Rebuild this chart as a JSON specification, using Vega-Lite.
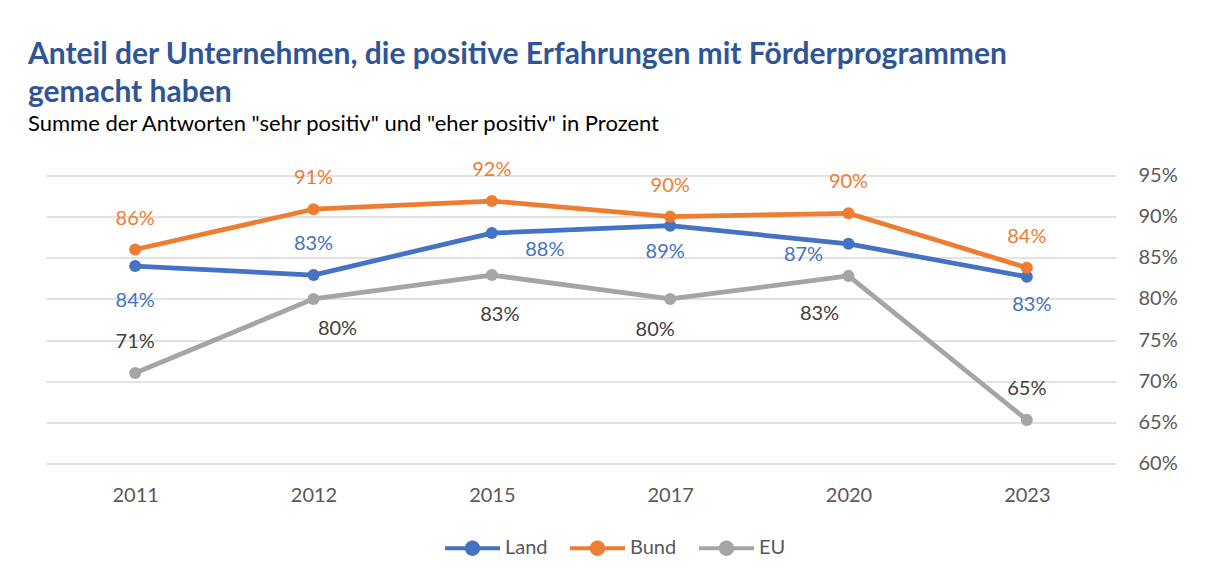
{
  "$schema": "https://vega.github.io/schema/vega-lite/v6.json",
  "width": 1070,
  "height": 288,
  "autosize": "none",
  "padding": {"left": 46, "top": 175.5, "right": 92, "bottom": 116.5},
  "background": "white",
  "config": {"view": {"stroke": null}},
  "title": {
    "text": ["Anteil der Unternehmen, die positive Erfahrungen mit Förderprogrammen", "gemacht haben"],
    "subtitle": "Summe der Antworten \"sehr positiv\" und \"eher positiv\" in Prozent",
    "anchor": "start",
    "frame": "group",
    "dx": -18,
    "offset": 25,
    "font": "Lato",
    "fontSize": 30,
    "fontWeight": "bold",
    "color": "#2F5597",
    "lineHeight": 38,
    "subtitleFont": "Lato",
    "subtitleFontSize": 22,
    "subtitleColor": "#000000",
    "subtitlePadding": 6
  },
  "data": {
    "values": [
      {"Reihe": "Land", "Jahr": "2011", "Anteil": 0.840},
      {"Reihe": "Land", "Jahr": "2012", "Anteil": 0.829},
      {"Reihe": "Land", "Jahr": "2015", "Anteil": 0.880},
      {"Reihe": "Land", "Jahr": "2017", "Anteil": 0.889},
      {"Reihe": "Land", "Jahr": "2020", "Anteil": 0.867},
      {"Reihe": "Land", "Jahr": "2023", "Anteil": 0.827},
      {"Reihe": "Bund", "Jahr": "2011", "Anteil": 0.860},
      {"Reihe": "Bund", "Jahr": "2012", "Anteil": 0.909},
      {"Reihe": "Bund", "Jahr": "2015", "Anteil": 0.919},
      {"Reihe": "Bund", "Jahr": "2017", "Anteil": 0.900},
      {"Reihe": "Bund", "Jahr": "2020", "Anteil": 0.904},
      {"Reihe": "Bund", "Jahr": "2023", "Anteil": 0.838},
      {"Reihe": "EU", "Jahr": "2011", "Anteil": 0.710},
      {"Reihe": "EU", "Jahr": "2012", "Anteil": 0.800},
      {"Reihe": "EU", "Jahr": "2015", "Anteil": 0.829},
      {"Reihe": "EU", "Jahr": "2017", "Anteil": 0.800},
      {"Reihe": "EU", "Jahr": "2020", "Anteil": 0.828},
      {"Reihe": "EU", "Jahr": "2023", "Anteil": 0.653}
    ]
  },
  "encoding": {
    "x": {
      "field": "Jahr",
      "type": "ordinal",
      "scale": {"type": "point", "padding": 0.5},
      "axis": {"title": null, "domain": false, "ticks": false, "grid": false, "labelPadding": 22, "labelAngle": 0, "labelFont": "Lato", "labelFontSize": 20, "labelColor": "#595959"}
    },
    "y": {
      "field": "Anteil",
      "type": "quantitative",
      "scale": {"domain": [0.6, 0.95], "zero": false, "nice": false},
      "axis": {"orient": "right", "title": null, "values": [0.6, 0.65, 0.7, 0.75, 0.8, 0.85, 0.9, 0.95], "format": ".0%", "domain": false, "ticks": false, "labelPadding": 22, "labelFont": "Lato", "labelFontSize": 20, "labelColor": "#595959", "grid": true, "gridColor": "#D9D9D9", "gridWidth": 1.5}
    }
  },
  "layer": [
    {
      "mark": {"type": "line", "strokeWidth": 4.75, "strokeJoin": "round", "strokeCap": "round"},
      "encoding": {
        "color": {
          "field": "Reihe",
          "type": "nominal",
          "sort": ["Land", "Bund", "EU"],
          "scale": {"domain": ["Land", "Bund", "EU"], "range": ["#4472C4", "#ED7D31", "#A5A5A5"]},
          "legend": {
            "title": null,
            "orient": "none",
            "direction": "horizontal",
            "legendX": 399,
            "legendY": 345,
            "labelFont": "Lato",
            "labelFontSize": 20,
            "labelColor": "#595959",
            "columnPadding": 22,
            "labelOffset": 5,
            "symbolType": "M-1,-0.075L-0.27,-0.075A0.28,0.28 0 0 1 0.27,-0.075L1,-0.075L1,0.075L0.27,0.075A0.28,0.28 0 0 1 -0.27,0.075L-1,0.075Z",
            "symbolSize": 3025,
            "symbolStrokeWidth": 0,
            "encode": {"symbols": {"update": {"fill": {"scale": "color", "field": "value"}, "stroke": {"value": "transparent"}, "opacity": {"value": 1}}}}
          }
        }
      }
    },
    {
      "mark": {"type": "point", "filled": true, "size": 145, "opacity": 1},
      "encoding": {
        "color": {"field": "Reihe", "type": "nominal", "scale": {"domain": ["Land", "Bund", "EU"], "range": ["#4472C4", "#ED7D31", "#A5A5A5"]}}
      }
    },
    {
      "transform": [{"filter": "datum.Reihe == 'Bund'"}],
      "mark": {"type": "text", "font": "Lato", "fontSize": 20, "color": "#ED7D31", "baseline": "middle", "dy": -31},
      "encoding": {"text": {"field": "Anteil", "format": ".0%"}}
    },
    {
      "transform": [{"filter": "datum.Reihe == 'Land' && datum.Jahr == '2011'"}],
      "mark": {"type": "text", "font": "Lato", "fontSize": 20, "color": "#4472C4", "baseline": "middle", "dx": 0, "dy": 35},
      "encoding": {"text": {"field": "Anteil", "format": ".0%"}}
    },
    {
      "transform": [{"filter": "datum.Reihe == 'Land' && datum.Jahr == '2012'"}],
      "mark": {"type": "text", "font": "Lato", "fontSize": 20, "color": "#4472C4", "baseline": "middle", "dx": 0, "dy": -31},
      "encoding": {"text": {"field": "Anteil", "format": ".0%"}}
    },
    {
      "transform": [{"filter": "datum.Reihe == 'Land' && datum.Jahr == '2015'"}],
      "mark": {"type": "text", "font": "Lato", "fontSize": 20, "color": "#4472C4", "baseline": "middle", "dx": 53, "dy": 17},
      "encoding": {"text": {"field": "Anteil", "format": ".0%"}}
    },
    {
      "transform": [{"filter": "datum.Reihe == 'Land' && datum.Jahr == '2017'"}],
      "mark": {"type": "text", "font": "Lato", "fontSize": 20, "color": "#4472C4", "baseline": "middle", "dx": -5, "dy": 26},
      "encoding": {"text": {"field": "Anteil", "format": ".0%"}}
    },
    {
      "transform": [{"filter": "datum.Reihe == 'Land' && datum.Jahr == '2020'"}],
      "mark": {"type": "text", "font": "Lato", "fontSize": 20, "color": "#4472C4", "baseline": "middle", "dx": -45, "dy": 11},
      "encoding": {"text": {"field": "Anteil", "format": ".0%"}}
    },
    {
      "transform": [{"filter": "datum.Reihe == 'Land' && datum.Jahr == '2023'"}],
      "mark": {"type": "text", "font": "Lato", "fontSize": 20, "color": "#4472C4", "baseline": "middle", "dx": 5, "dy": 28},
      "encoding": {"text": {"field": "Anteil", "format": ".0%"}}
    },
    {
      "transform": [{"filter": "datum.Reihe == 'EU' && (datum.Jahr == '2011' || datum.Jahr == '2023')"}],
      "mark": {"type": "text", "font": "Lato", "fontSize": 20, "color": "#404040", "baseline": "middle", "dx": 0, "dy": -31},
      "encoding": {"text": {"field": "Anteil", "format": ".0%"}}
    },
    {
      "transform": [{"filter": "datum.Reihe == 'EU' && datum.Jahr == '2012'"}],
      "mark": {"type": "text", "font": "Lato", "fontSize": 20, "color": "#404040", "baseline": "middle", "dx": 24, "dy": 30},
      "encoding": {"text": {"field": "Anteil", "format": ".0%"}}
    },
    {
      "transform": [{"filter": "datum.Reihe == 'EU' && datum.Jahr == '2015'"}],
      "mark": {"type": "text", "font": "Lato", "fontSize": 20, "color": "#404040", "baseline": "middle", "dx": 8, "dy": 40},
      "encoding": {"text": {"field": "Anteil", "format": ".0%"}}
    },
    {
      "transform": [{"filter": "datum.Reihe == 'EU' && datum.Jahr == '2017'"}],
      "mark": {"type": "text", "font": "Lato", "fontSize": 20, "color": "#404040", "baseline": "middle", "dx": -15, "dy": 31},
      "encoding": {"text": {"field": "Anteil", "format": ".0%"}}
    },
    {
      "transform": [{"filter": "datum.Reihe == 'EU' && datum.Jahr == '2020'"}],
      "mark": {"type": "text", "font": "Lato", "fontSize": 20, "color": "#404040", "baseline": "middle", "dx": -29, "dy": 38},
      "encoding": {"text": {"field": "Anteil", "format": ".0%"}}
    }
  ]
}
